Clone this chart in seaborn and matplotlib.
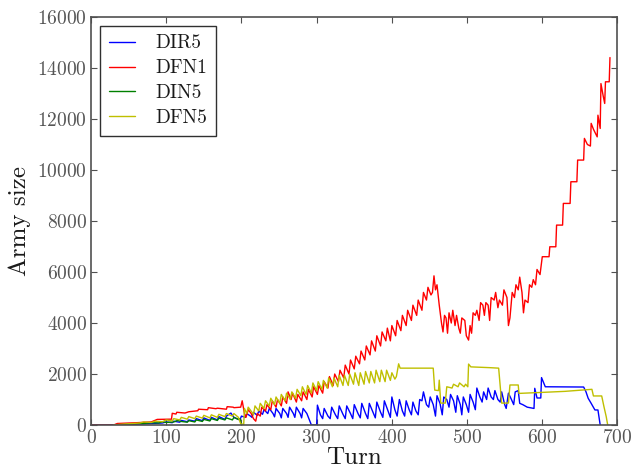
import matplotlib
matplotlib.use("Agg")
import matplotlib.pyplot as plt
import seaborn as sns
import pandas as pd

# ---- army size per turn, one vertex list per strategy ----
dir5_turn = [0, 40, 60, 80, 95, 100, 108, 110, 118, 120, 128, 130, 138, 140, 148, 150, 158, 160,
             168, 170, 178, 180, 186, 190, 196, 198, 200, 205, 207, 212, 214, 216, 221, 223, 228,
             230, 235, 237, 242, 244, 246, 251, 253, 255, 260, 262, 264, 269, 271, 273, 278, 280,
             282, 287, 289, 291, 293, 300, 301, 305, 308, 310, 315, 318, 320, 325, 328, 330, 335,
             338, 340, 345, 348, 350, 355, 358, 360, 365, 368, 370, 375, 378, 380, 385, 388, 390,
             395, 398, 400, 404, 407, 410, 414, 417, 419, 423, 426, 428, 432, 435, 437, 440, 442,
             446, 449, 451, 455, 458, 460, 464, 467, 469, 473, 476, 478, 482, 485, 487, 491, 493,
             495, 499, 502, 504, 508, 511, 513, 517, 520, 522, 526, 528, 532, 535, 537, 541, 544,
             546, 550, 552, 555, 559, 562, 564, 568, 570, 574, 580, 589, 590, 593, 598, 599, 604,
             655, 658, 661, 665, 670, 674, 677]
dir5_size = [0, 10, 30, 60, 80, 120, 90, 150, 110, 180, 130, 200, 150, 250, 170, 280, 180, 300,
             200, 330, 220, 350, 470, 300, 220, 200, 350, 300, 450, 350, 300, 500, 380, 550, 420,
             600, 450, 650, 450, 320, 650, 450, 280, 650, 450, 300, 700, 450, 300, 700, 450, 280,
             650, 450, 300, 150, 0, 0, 780, 400, 250, 650, 350, 250, 700, 400, 250, 750, 420,
             250, 750, 450, 250, 800, 450, 280, 850, 450, 250, 850, 500, 280, 900, 500, 300, 950,
             550, 300, 1100, 600, 350, 1000, 550, 350, 950, 600, 400, 900, 550, 400, 1000, 950, 1300,
             800, 700, 1100, 800, 350, 1150, 850, 400, 1100, 1000, 700, 1200, 950, 500, 1150, 800, 400,
             1100, 800, 500, 1200, 900, 600, 1450, 1100, 900, 1300, 1000, 1450, 1100, 1000, 1350, 1000, 900,
             1300, 800, 650, 1250, 1000, 800, 1300, 1350, 850, 800, 700, 650, 1440, 1060, 1060, 1860, 1500,
             1490, 1310, 1050, 850, 590, 590, 0]

dfn1_turn = [0, 30, 35, 60, 80, 88, 107, 108, 113, 114, 125, 130, 142, 143, 155, 156, 166, 168,
             180, 181, 189, 190, 199, 201, 204, 206, 209, 213, 216, 219, 221, 225, 227, 232, 234,
             239, 241, 246, 248, 253, 255, 260, 262, 266, 268, 273, 275, 280, 282, 287, 289, 294,
             296, 301, 303, 308, 310, 315, 317, 322, 324, 329, 331, 336, 338, 343, 345, 350, 352,
             357, 359, 364, 366, 371, 373, 378, 380, 385, 387, 392, 394, 398, 400, 405, 407, 412,
             414, 419, 421, 426, 428, 433, 435, 440, 442, 446, 448, 452, 454, 456, 458, 460, 463,
             466, 468, 470, 472, 474, 476, 479, 481, 484, 486, 489, 491, 493, 497, 499, 502, 504,
             506, 508, 511, 513, 516, 518, 521, 523, 525, 528, 530, 532, 536, 538, 541, 543, 547,
             549, 553, 555, 557, 560, 563, 565, 568, 570, 573, 575, 577, 581, 583, 586, 588, 591,
             593, 597, 600, 609, 610, 618, 619, 627, 628, 637, 638, 646, 647, 655, 656, 660, 664,
             665, 668, 673, 674, 677, 678, 681, 683, 684, 689, 690]
dfn1_size = [0, 0, 60, 90, 120, 220, 230, 460, 430, 500, 470, 520, 560, 620, 600, 680, 640, 660,
             620, 720, 700, 680, 700, 950, 450, 300, 600, 450, 250, 150, 450, 350, 700, 550, 800,
             600, 950, 700, 1000, 750, 1100, 850, 1300, 1000, 1250, 900, 1200, 950, 1300, 1000, 1400, 1100,
             1500, 1200, 1550, 1250, 1700, 1450, 1900, 1550, 2000, 1700, 2150, 1850, 2350, 2000, 2550, 2200, 2700,
             2400, 2900, 2550, 3100, 2750, 3300, 2900, 3500, 3100, 3650, 3300, 3800, 3300, 3900, 3500, 4100, 3700,
             4300, 3900, 4500, 4100, 4700, 4300, 4900, 4500, 5200, 4900, 5400, 5100, 5200, 5850, 5300, 5500, 4700,
             4000, 3650, 4300, 4200, 3600, 4400, 4000, 4500, 3900, 4300, 3800, 3600, 4200, 4100, 3500, 3330, 3900,
             3600, 4400, 4300, 4500, 4100, 4800, 4700, 4300, 4800, 4700, 4100, 5000, 4900, 5200, 4600, 4900, 4700,
             5300, 5000, 3900, 4200, 5200, 5000, 5500, 5300, 5800, 5200, 4400, 4900, 4800, 5500, 5400, 5700, 5500,
             6100, 5900, 6600, 6600, 6990, 6990, 7840, 7840, 8690, 8690, 9540, 9540, 10390, 10390, 11240, 11000, 10940,
             11830, 11600, 11300, 12150, 11630, 13390, 12900, 12610, 13460, 13460, 14410]

din5_turn = [40, 50, 60, 70, 80, 90, 95, 100, 110, 115, 120, 128, 130, 138, 140, 148, 150, 158,
             160, 168, 170, 178, 180, 188, 190, 196, 198, 200]
din5_size = [0, 30, 50, 60, 90, 80, 130, 100, 120, 180, 140, 110, 170, 120, 200, 140, 220, 160,
             250, 180, 270, 200, 280, 200, 300, 220, 250, 0]

dfn5_turn = [30, 40, 55, 65, 70, 80, 85, 95, 100, 108, 110, 118, 120, 128, 130, 138, 140, 148,
             150, 158, 160, 168, 170, 178, 180, 188, 190, 196, 199, 203, 204, 207, 209, 214, 216,
             218, 223, 225, 230, 232, 237, 239, 244, 246, 251, 253, 258, 260, 265, 267, 272, 274,
             279, 281, 286, 288, 293, 295, 300, 302, 307, 309, 314, 316, 321, 323, 328, 330, 335,
             337, 342, 344, 349, 351, 356, 358, 363, 365, 370, 372, 377, 379, 384, 386, 391, 393,
             398, 400, 404, 406, 409, 411, 455, 457, 462, 463, 465, 471, 473, 480, 482, 488, 490,
             496, 498, 501, 502, 505, 530, 542, 546, 555, 557, 568, 569, 600, 630, 666, 668, 679,
             682, 685, 687]
dfn5_size = [0, 30, 60, 80, 120, 100, 150, 130, 200, 160, 250, 200, 300, 230, 330, 250, 350, 270,
             380, 280, 400, 300, 420, 330, 450, 350, 450, 300, 50, 20, 650, 450, 700, 500, 400,
             750, 550, 850, 650, 950, 750, 1050, 800, 1100, 850, 1200, 950, 1250, 1000, 1300, 1050, 1400,
             1150, 1500, 1200, 1550, 1250, 1650, 1350, 1700, 1400, 1750, 1450, 1850, 1500, 1850, 1500, 1950, 1550,
             1950, 1550, 2000, 1600, 2050, 1550, 2050, 1600, 2100, 1650, 2100, 1650, 2150, 1700, 2150, 1700, 2150,
             1750, 2050, 1800, 1900, 2400, 2230, 2230, 1370, 1350, 1760, 860, 860, 1500, 1450, 1600, 1500, 1650,
             1500, 1600, 1500, 2390, 2280, 2250, 2230, 860, 860, 1570, 1570, 1240, 1280, 1320, 1400, 1140, 1140,
             720, 330, 0]

series_names = ["DIR5", "DFN1", "DIN5", "DFN5"]
series_colors = ["#0000ff", "#ff0000", "#008000", "#bfbf00"]

frames = []
for name, t, v in [("DIR5", dir5_turn, dir5_size), ("DFN1", dfn1_turn, dfn1_size),
                   ("DIN5", din5_turn, din5_size), ("DFN5", dfn5_turn, dfn5_size)]:
    frames.append(pd.DataFrame({"Turn": t, "Army size": v, "series": name}))
df = pd.concat(frames, ignore_index=True)

frame_grey = "#505050"

sns.set_style("ticks")
plt.rcParams.update({
    "font.family": ["cmr10", "DejaVu Serif"],
    "mathtext.fontset": "cm",
    "axes.formatter.use_mathtext": True,
    "xtick.direction": "in",
    "ytick.direction": "in",
    "xtick.top": True,
    "ytick.right": True,
    "xtick.major.size": 4,
    "ytick.major.size": 4,
    "axes.edgecolor": frame_grey,
    "axes.linewidth": 1.2,
    "xtick.color": frame_grey,
    "ytick.color": frame_grey,
    "xtick.labelcolor": "#555555",
    "ytick.labelcolor": "#555555",
})

fig = plt.figure(figsize=(6.33, 4.70), dpi=100)
ax = fig.add_axes([0.1438, 0.0957, 0.8317, 0.8681])

sns.lineplot(data=df, x="Turn", y="Army size", hue="series", hue_order=series_names,
             palette=dict(zip(series_names, series_colors)), estimator=None, sort=False,
             linewidth=1.0, ax=ax)

ax.set_xlim(0, 700)
ax.set_ylim(0, 16000)
ax.set_xticks(range(0, 701, 100))
ax.set_yticks(range(0, 16001, 2000))
ax.tick_params(labelsize=14, pad=3)
ax.set_xlabel("Turn", fontsize=18, labelpad=0, color="#1a1a1a")
ax.set_ylabel("Army size", fontsize=18, labelpad=4, color="#1a1a1a")

handles, labels = ax.get_legend_handles_labels()
leg = ax.legend(handles, labels, loc="upper left", fontsize=14, frameon=True, fancybox=False,
                edgecolor="#303030", framealpha=1.0, borderpad=0.45, labelspacing=0.36,
                handlelength=1.35, handletextpad=1.05, bbox_to_anchor=(0.0, 1.0),
                borderaxespad=0.45)
leg.get_frame().set_linewidth(1.0)
for h in leg.get_lines():
    h.set_linewidth(1.0)
for txt in leg.get_texts():
    txt.set_color("#1a1a1a")

fig.savefig("out.png", dpi=100)
